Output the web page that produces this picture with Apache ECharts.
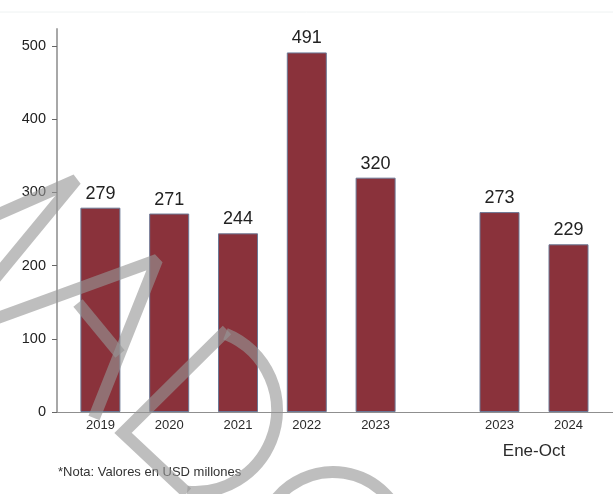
<!DOCTYPE html>
<html>
<head>
<meta charset="utf-8">
<script src="https://cdn.jsdelivr.net/npm/echarts@6/dist/echarts.min.js"></script>
<style>
html,body{margin:0;padding:0;background:#fff;}
#chart{width:613px;height:494px;}
</style>
</head>
<body>
<div id="chart"></div>
<script>
// ---- data ----
var annualYears = ['2019', '2020', '2021', '2022', '2023'];
var annualValues = [279, 271, 244, 491, 320];
var periodYears = ['2023', '2024'];
var periodValues = [273, 229];
var periodName = 'Ene-Oct';
var yTicks = [0, 100, 200, 300, 400, 500];
var noteText = '*Nota: Valores en USD millones';

var FONT = '"Liberation Sans", Arial, sans-serif';
var YMAX = 523;
var barColor = '#8a323b';

var chart = echarts.init(document.getElementById('chart'), null, {renderer: 'canvas'});

function hiddenY(idx) {
  return {
    type: 'value', gridIndex: idx, min: 0, max: YMAX, show: false,
    splitLine: {show: false}
  };
}
function catX(idx, cats, extra) {
  var o = {
    type: 'category', gridIndex: idx, data: cats,
    axisLine: {show: false}, axisTick: {show: false},
    axisLabel: {color: '#2a2a2a', fontSize: 13, fontFamily: FONT, margin: 7}
  };
  for (var k in extra) o[k] = extra[k];
  return o;
}
function barSeries(xi, vals) {
  return {
    type: 'bar', xAxisIndex: xi, yAxisIndex: xi, data: vals,
    barWidth: 40,
    itemStyle: {color: barColor, borderColor: '#6c7895', borderWidth: 1},
    label: {show: true, position: 'top', distance: 5, color: '#222', fontSize: 18, fontFamily: FONT},
    z: 2
  };
}

function wm() {
  return {stroke: 'rgba(150,150,150,0.62)', lineWidth: 12, fill: null, lineJoin: 'miter', miterLimit: 1.6};
}

var option = {
  backgroundColor: '#fff',
  animation: false,
  grid: [
    {left: 57, right: 0, top: 29, bottom: 82},
    {left: 66, width: 344, top: 29, bottom: 82},
    {left: 465, width: 138, top: 29, bottom: 82}
  ],
  xAxis: [
    {
      type: 'value', gridIndex: 0, min: 0, max: 1,
      axisLine: {show: true, lineStyle: {color: '#8f8f8f', width: 1}},
      axisTick: {show: false}, axisLabel: {show: false}, splitLine: {show: false}
    },
    catX(1, annualYears, {}),
    catX(2, periodYears, {
      name: periodName, nameLocation: 'middle', nameGap: 31,
      nameTextStyle: {color: '#2a2a2a', fontSize: 17, fontFamily: FONT}
    })
  ],
  yAxis: [
    {
      type: 'value', gridIndex: 0, min: 0, max: YMAX,
      axisLine: {show: true, lineStyle: {color: '#a8a8a8', width: 2}},
      axisTick: {show: true, length: 5, customValues: yTicks, lineStyle: {color: '#666', width: 1}},
      axisLabel: {customValues: yTicks, color: '#222', fontSize: 14.5, fontFamily: FONT, margin: 11},
      splitLine: {show: false}
    },
    hiddenY(1),
    hiddenY(2)
  ],
  series: [
    barSeries(1, annualValues),
    barSeries(2, periodValues)
  ],
  graphic: [
    {type: 'line', shape: {x1: 0, y1: 12, x2: 613, y2: 12}, style: {stroke: '#eef2f2', lineWidth: 1}, z: 1},
    {type: 'text', x: 58, y: 466, style: {text: noteText, fill: '#333', fontSize: 13, fontFamily: FONT}, z: 5},
    // watermark strokes
    {type: 'polyline', shape: {points: [[-8, 217], [76, 180], [-8, 282]]}, style: wm(), z: 100},
    {type: 'polyline', shape: {points: [[-8, 320], [157, 260], [94, 418]]}, style: wm(), z: 100},
    {type: 'line', shape: {x1: 78, y1: 303, x2: 120, y2: 354}, style: wm(), z: 100},
    {type: 'polyline', shape: {points: [[187, 493], [123, 433], [227, 330]]}, style: wm(), z: 100},
    {type: 'arc', shape: {cx: 195, cy: 410, r: 82, startAngle: -1.19, endAngle: 1.667, clockwise: true}, style: wm(), z: 100},
    {type: 'arc', shape: {cx: 333, cy: 545, r: 73, startAngle: Math.PI * 1.05, endAngle: Math.PI * 1.95, clockwise: true}, style: wm(), z: 100}
  ]
};
chart.setOption(option);
</script>
</body>
</html>
